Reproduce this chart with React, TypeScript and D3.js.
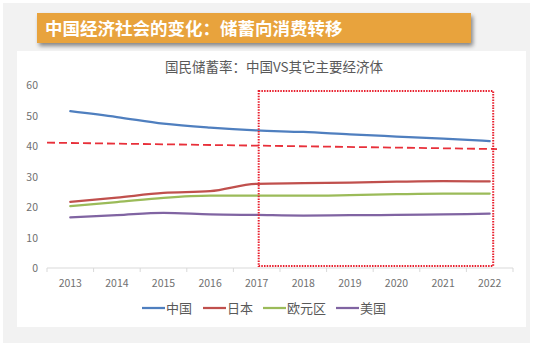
import React from "react";
import * as d3 from "d3";

const years = ["2013","2014","2015","2016","2017","2018","2019","2020","2021","2022"];
const china = [51.4, 49.5, 47.3, 46.0, 45.1, 44.6, 43.8, 43.1, 42.4, 41.6];
const japan = [21.7, 23.1, 24.6, 25.2, 27.6, 27.8, 28.0, 28.3, 28.5, 28.4];
const euro = [20.3, 21.6, 23.0, 23.7, 23.7, 23.7, 23.9, 24.2, 24.4, 24.4];
const usa = [16.6, 17.3, 18.1, 17.6, 17.4, 17.2, 17.3, 17.4, 17.6, 17.8];
const seriesNames = ["中国", "日本", "欧元区", "美国"];
const seriesColors = ["#4F7FBF", "#C0504D", "#9BBB59", "#8064A2"];
const yTicks = [0, 10, 20, 30, 40, 50, 60];
const avgLine = [41.1, 39.0];
const bannerTitle = "中国经济社会的变化：储蓄向消费转移";
const chartTitle = "国民储蓄率：中国VS其它主要经济体";

export default function App() {
  const allSeries = [china, japan, euro, usa];
  const x = d3.scaleBand<string>().domain(years).range([47, 513]);
  const cx = (d: string) => (x(d) as number) + x.bandwidth() / 2;
  const y = d3.scaleLinear().domain([0, 60]).range([268, 85]);
  const line = d3
    .line<number>()
    .x((_, i) => cx(years[i]))
    .y((v) => y(v))
    .curve(d3.curveMonotoneX);

  const font = "'Noto Sans CJK SC', 'Noto Sans', sans-serif";
  const legendItems = [
    { x: 142, tx: 166 },
    { x: 203, tx: 227 },
    { x: 263, tx: 287 },
    { x: 336, tx: 360 },
  ];
  const rectX0 = cx("2017") + 2;
  const rectX1 = cx("2022") + 3.5;

  return (
    <svg
      width={542}
      height={346}
      style={{ position: "absolute", left: 0, top: 0 }}
      fontFamily={font}
    >
      <defs>
        <filter id="sh" x="-10%" y="-30%" width="130%" height="180%">
          <feGaussianBlur in="SourceAlpha" stdDeviation="2" />
          <feOffset dx="2" dy="3" result="b" />
          <feComponentTransfer>
            <feFuncA type="linear" slope="0.45" />
          </feComponentTransfer>
          <feMerge>
            <feMergeNode />
            <feMergeNode in="SourceGraphic" />
          </feMerge>
        </filter>
      </defs>
      <rect x={0} y={0} width={542} height={346} fill="#ffffff" />
      <rect x={3} y={3} width={527} height={340} fill="#f2f2f2" />
      <rect x={17} y={51} width={509} height={276} fill="#ffffff" />
      <rect x={37} y={13} width={434} height={30} fill="#E8A33E" filter="url(#sh)" />
      <text x={45} y={35} fill="#ffffff" fontSize={17.5} fontWeight="bold">
        {bannerTitle}
      </text>

      <text x={274} y={72} fill="#595959" fontSize={13.5} textAnchor="middle">
        {chartTitle}
      </text>

      {yTicks.map((t) => (
        <text
          key={t}
          x={38}
          y={y(t) + 4}
          fill="#707070"
          fontSize={10.5}
          textAnchor="end"
        >
          {t}
        </text>
      ))}

      <line x1={47} x2={513} y1={268} y2={268} stroke="#d9d9d9" strokeWidth={1} />
      {d3.range(years.length + 1).map((i) => {
        const xx = 47 + i * x.step();
        return <line key={i} x1={xx} x2={xx} y1={268} y2={272} stroke="#d9d9d9" />;
      })}
      {years.map((yr) => (
        <text
          key={yr}
          x={cx(yr)}
          y={287}
          fill="#707070"
          fontSize={10.5}
          textAnchor="middle"
        >
          {yr}
        </text>
      ))}

      {allSeries.map((s, i) => (
        <path
          key={i}
          d={line(s) || ""}
          fill="none"
          stroke={seriesColors[i]}
          strokeWidth={2.25}
          strokeLinecap="round"
        />
      ))}

      <line
        x1={47}
        x2={497}
        y1={y(avgLine[0])}
        y2={y(avgLine[1])}
        stroke="#E8303A"
        strokeWidth={1.8}
        strokeDasharray="8 4"
      />

      <rect
        x={rectX0}
        y={91}
        width={rectX1 - rectX0}
        height={175}
        fill="none"
        stroke="#E8202E"
        strokeWidth={2}
        strokeDasharray="1.5 1.2"
      />

      {seriesNames.map((n, i) => (
        <g key={n}>
          <line
            x1={legendItems[i].x}
            x2={legendItems[i].x + 23}
            y1={308}
            y2={308}
            stroke={seriesColors[i]}
            strokeWidth={2.25}
          />
          <text x={legendItems[i].tx} y={313} fill="#595959" fontSize={13}>
            {n}
          </text>
        </g>
      ))}
    </svg>
  );
}
